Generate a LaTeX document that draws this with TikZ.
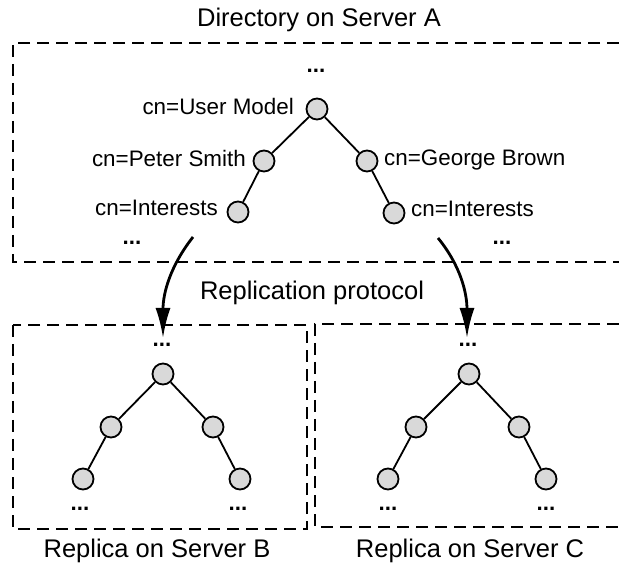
\documentclass[tikz,border=0pt]{standalone}
\usepackage{fontspec}
\setmainfont{Liberation Sans}
\usetikzlibrary{arrows.meta}
\tikzset{
  dnode/.style={circle, draw=black, fill=black!15, line width=1.8pt,
    minimum size=21pt, inner sep=0pt},
  edge/.style={line width=1.8pt},
  frame/.style={line width=2.8pt, dash pattern=on 12pt off 7pt},
  lbl/.style={inner sep=0pt, font=\fontsize{22.4}{24}\selectfont},
  big/.style={inner sep=0pt, font=\fontsize{25.5}{28}\selectfont, anchor=base},
  dots/.style={inner sep=0pt, font=\fontsize{22.4}{24}\selectfont\bfseries, anchor=base},
  repl/.style={line width=2.8pt, -{Latex[length=30pt,width=15pt]}}
}
\begin{document}
\begin{tikzpicture}[x=1pt,y=-1pt]
\useasboundingbox (0,0) rectangle (619,569);

% frames
\draw[frame] (619,43) -- (13,43) -- (13,262) -- (619,262);
\draw[frame] (13,325) rectangle (307,529);
\draw[frame] (619,324) -- (315,324) -- (315,527) -- (619,527);

% captions
\node[big] (tA) at (319,27) {Directory on Server A};
\node[big] (tP) at (312,300) {Replication protocol};
\node[big] (tB) at (157,557) {Replica on Server B};
\node[big] (tC) at (470,557) {Replica on Server C};

% tree on server A
\node[dnode] (a0) at (317,109) {};
\node[dnode] (a1) at (264,161) {};
\node[dnode] (a2) at (367,161) {};
\node[dnode] (a3) at (238,212) {};
\node[dnode] (a4) at (394,213) {};
\draw[edge] (a0) -- (a1) (a0) -- (a2) (a1) -- (a3) (a2) -- (a4);

\node[lbl, anchor=base east] (la0) at (294,115) {cn=User Model};
\node[lbl, anchor=base east] (la1) at (246,167) {cn=Peter Smith};
\node[lbl, anchor=base west] (la2) at (384,166) {cn=George Brown};
\node[lbl, anchor=base east] (la3) at (218,216) {cn=Interests};
\node[lbl, anchor=base west] (la4) at (411,217) {cn=Interests};

\node[dots] (da0) at (316,73) {...};
\node[dots] (da1) at (132,245) {...};
\node[dots] (da2) at (502,245) {...};

% replica on server B
\node[dnode] (b0) at (163,374) {};
\node[dnode] (b1) at (111,427) {};
\node[dnode] (b2) at (213,427) {};
\node[dnode] (b3) at (83,479) {};
\node[dnode] (b4) at (240,479) {};
\draw[edge] (b0) -- (b1) (b0) -- (b2) (b1) -- (b3) (b2) -- (b4);
\node[dots] (db0) at (162,347) {...};
\node[dots] (db1) at (80,510) {...};
\node[dots] (db2) at (238,510) {...};

% replica on server C
\node[dnode] (c0) at (469,374) {};
\node[dnode] (c1) at (416,427) {};
\node[dnode] (c2) at (519,427) {};
\node[dnode] (c3) at (388,479) {};
\node[dnode] (c4) at (546,479) {};
\draw[edge] (c0) -- (c1) (c0) -- (c2) (c1) -- (c3) (c2) -- (c4);
\node[dots] (dc0) at (468,347) {...};
\node[dots] (dc1) at (388,510) {...};
\node[dots] (dc2) at (546,510) {...};

% replication arrows
\coordinate (sL) at (193,237);
\coordinate (eL) at (163,338);
\coordinate (sR) at (438,238);
\coordinate (eR) at (467,338);
\draw[repl] (sL) .. controls (171,265) and (163,292) .. (eL);
\draw[repl] (sR) .. controls (460,265) and (467,292) .. (eR);
\end{tikzpicture}
\end{document}
